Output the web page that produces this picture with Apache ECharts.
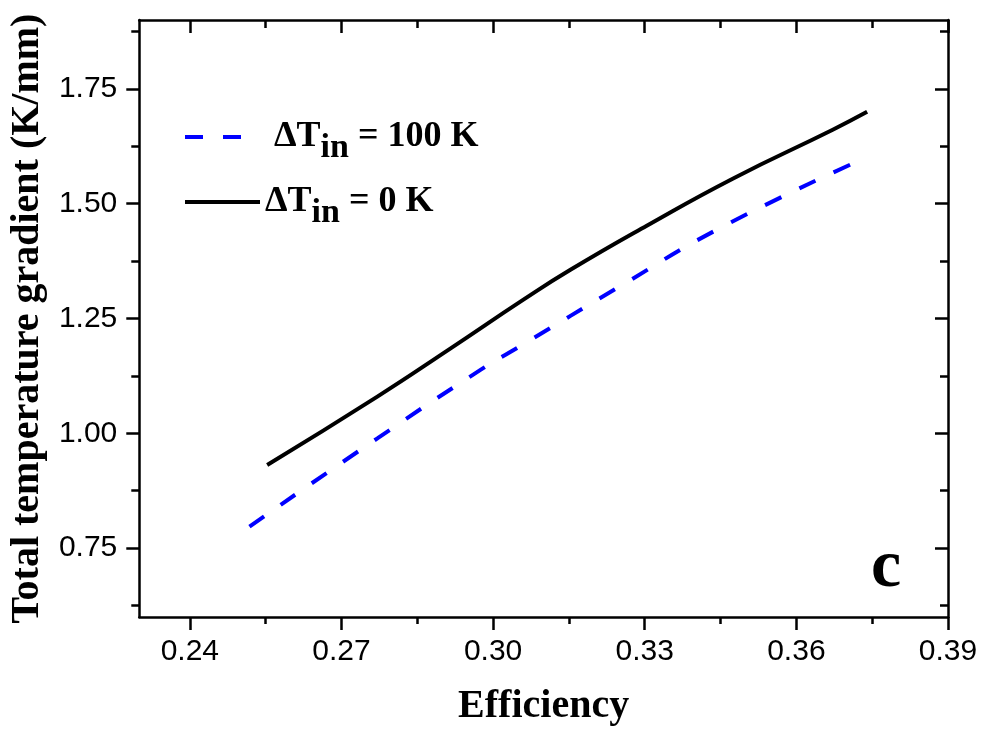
<!DOCTYPE html>
<html>
<head>
<meta charset="utf-8">
<script src="https://cdn.jsdelivr.net/npm/echarts@6/dist/echarts.min.js"></script>
<style>
  html, body { margin: 0; padding: 0; background: #fff; }
  #main { width: 986px; height: 733px; }
</style>
</head>
<body>
<div id="main"></div>
<script>
// efficiency vs total temperature gradient
var effZero = [0.2553, 0.2771, 0.2916, 0.3060, 0.3153, 0.3304, 0.3475, 0.3672, 0.3740];
var gradZero = [0.931, 1.080, 1.185, 1.291, 1.356, 1.452, 1.555, 1.661, 1.700];
var effHundred = [0.2518, 0.2771, 0.2975, 0.3057, 0.3251, 0.3449, 0.3725];
var gradHundred = [0.797, 0.989, 1.138, 1.192, 1.320, 1.447, 1.594];

var xMajor = [0.24, 0.27, 0.30, 0.33, 0.36, 0.39];
var xMinor = [0.255, 0.285, 0.315, 0.345, 0.375];
var yMajor = [0.75, 1.00, 1.25, 1.50, 1.75];
var yMinor = [0.625, 0.875, 1.125, 1.375, 1.625, 1.875];

var nameHundred = 'ΔTin = 100 K', nameZero = 'ΔTin = 0 K';

function pairs(xs, ys) {
    var out = [];
    for (var i = 0; i < xs.length; i++) out.push([xs[i], ys[i]]);
    return out;
}

function axis(pos, min, max, ticks, len, inside, labels, line, extra) {
    var a = {
        type: 'value', position: pos, min: min, max: max,
        splitLine: { show: false },
        axisLine: { show: line, onZero: false, lineStyle: { color: '#000', width: 2.5 } },
        axisTick: { show: true, inside: inside, length: len, customValues: ticks,
                    lineStyle: { color: '#000', width: 2.5 } },
        axisLabel: { show: labels, customValues: ticks, color: '#000',
                     fontFamily: 'Liberation Sans', fontSize: 30,
                     margin: (pos == 'bottom' ? 20 : 22),
                     formatter: function (v) { return v.toFixed(2); } }
    };
    for (var k in extra) a[k] = extra[k];
    return a;
}

var legendRich = {
    g: { width: 24 },
    a: { fontFamily: 'Liberation Serif', fontWeight: 'bold', fontSize: 36, color: '#000', lineHeight: 56 },
    b: { fontFamily: 'Liberation Serif', fontWeight: 'bold', fontSize: 34, color: '#000', lineHeight: 34, verticalAlign: 'bottom' }
};

var myChart = echarts.init(document.getElementById('main'));
var option = {
    backgroundColor: '#fff',
    animation: false,
    grid: { left: 138, right: 38, top: 20, bottom: 116 },
    xAxis: [
        axis('bottom', 0.23, 0.39, xMajor, 13, false, true, true, {
            name: 'Efficiency', nameLocation: 'middle', nameGap: 70,
            nameTextStyle: { fontFamily: 'Liberation Serif', fontWeight: 'bold', fontSize: 40, color: '#000' }
        }),
        axis('bottom', 0.23, 0.39, xMinor, 7, false, false, false, {}),
        axis('top', 0.23, 0.39, xMajor, 13, true, false, true, {}),
        axis('top', 0.23, 0.39, xMinor, 8, true, false, false, {})
    ],
    yAxis: [
        axis('left', 0.6, 1.9, yMajor, 13, false, true, true, {
            name: 'Total temperature gradient (K/mm)', nameLocation: 'middle', nameGap: 81,
            nameTextStyle: { fontFamily: 'Liberation Serif', fontWeight: 'bold', fontSize: 40, color: '#000' }
        }),
        axis('left', 0.6, 1.9, yMinor, 8, false, false, false, {}),
        axis('right', 0.6, 1.9, yMajor, 13, true, false, true, {}),
        axis('right', 0.6, 1.9, yMinor, 8, true, false, false, {})
    ],
    legend: [
        { data: [nameHundred], left: 183, top: 119, padding: 0, itemWidth: 60, itemHeight: 14,
          itemStyle: { opacity: 0 }, lineStyle: { width: 4 },
          formatter: function () { return '{g| }{a|ΔT}{b|in}{a| = 100 K}'; },
          textStyle: { rich: legendRich } },
        { data: [nameZero], left: 183, top: 184, padding: 0, itemWidth: 75, itemHeight: 14,
          itemStyle: { opacity: 0 }, lineStyle: { width: 4 },
          formatter: function () { return '{a|ΔT}{b|in}{a| = 0 K}'; },
          textStyle: { rich: legendRich } }
    ],
    graphic: [{
        type: 'text', left: 871, top: 534,
        style: { text: 'c', fontFamily: 'Liberation Serif', fontWeight: 'bold', fontSize: 68, fill: '#000' }
    }],
    series: [
        { name: nameHundred, type: 'line', data: pairs(effHundred, gradHundred), smooth: 0.5,
          symbol: 'none', lineStyle: { color: '#0000ff', width: 4, type: [18, 20] },
          itemStyle: { color: '#0000ff' } },
        { name: nameZero, type: 'line', data: pairs(effZero, gradZero), smooth: 0.5,
          symbol: 'none', lineStyle: { color: '#000', width: 4 },
          itemStyle: { color: '#000' } }
    ]
};
myChart.setOption(option);
</script>
</body>
</html>
